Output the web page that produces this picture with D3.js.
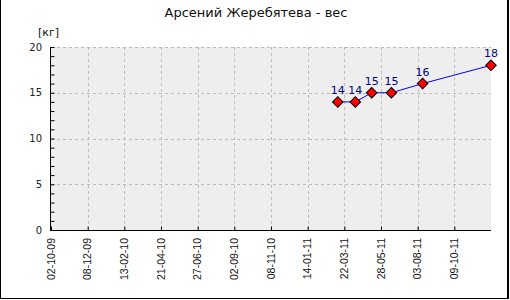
<!DOCTYPE html>
<html>
<head>
<meta charset="utf-8">
<script src="https://cdn.jsdelivr.net/npm/d3@7"></script>
<style>
body { margin: 0; background: #fff; }
svg { display: block; }
</style>
</head>
<body>
<script>
// chart data
var title = "Арсений Жеребятева - вес"
var unit = "[кг]"
var tickLabels = ["02-10-09", "08-12-09", "13-02-10", "21-04-10", "27-06-10", "02-09-10",
                  "08-11-10", "14-01-11", "22-03-11", "28-05-11", "03-08-11", "09-10-11"]
var measureDates = ["10-03-11", "11-04-11", "11-05-11", "16-06-11", "12-08-11", "15-12-11"]
var weights = [14, 14, 15, 15, 16, 18]
var yTicks = [0, 5, 10, 15, 20]

var parse = d3.timeParse("%d-%m-%y")
var fmt = d3.timeFormat("%d-%m-%y")
var data = measureDates.map((d, i) => ({date: parse(d), w: weights[i]}))
var tickDates = tickLabels.map(parse)

var W = 510, H = 300
var plotL = 51, plotR = 491, plotT = 47, plotB = 230

var svg = d3.select("body").append("svg")
    .attr("width", W)
    .attr("height", H)

// outer frame (left, right, bottom)
svg.append("line").attr("x1", 0.5).attr("x2", 0.5).attr("y1", 0).attr("y2", 299).attr("stroke", "#000")
svg.append("line").attr("x1", 508).attr("x2", 508).attr("y1", 0).attr("y2", 299).attr("stroke", "#000").attr("stroke-width", 2)
svg.append("line").attr("x1", 0).attr("x2", 509).attr("y1", 298.5).attr("y2", 298.5).attr("stroke", "#000")

var x = d3.scaleTime()
    .domain([tickDates[0], data[data.length - 1].date])
    .range([plotL, plotR])
var y = d3.scaleLinear().domain([0, 20]).range([plotB, plotT])

// plot background
svg.append("rect")
    .attr("x", plotL).attr("y", plotT)
    .attr("width", plotR - plotL).attr("height", plotB - plotT)
    .attr("fill", "#eeeeee")

// grid
svg.append("g").selectAll("line")
    .data(yTicks.filter(d => d > 0))
    .enter().append("line")
    .attr("x1", plotL).attr("x2", plotR)
    .attr("y1", d => Math.round(y(d)) + 0.5).attr("y2", d => Math.round(y(d)) + 0.5)
    .attr("stroke", "#bbbbbb").attr("stroke-dasharray", "3,3")
svg.append("g").selectAll("line")
    .data(tickDates.slice(1))
    .enter().append("line")
    .attr("x1", d => Math.round(x(d)) + 0.5).attr("x2", d => Math.round(x(d)) + 0.5)
    .attr("y1", plotT).attr("y2", plotB)
    .attr("stroke", "#bbbbbb").attr("stroke-dasharray", "3,3")

// y axis, ticks inside
var yAxis = d3.axisRight(y).ticks(20).tickSize(4).tickFormat("")
var gy = svg.append("g").attr("transform", "translate(" + (plotL - 0.5) + ",0)").call(yAxis)
gy.select(".domain").remove()
gy.append("line").attr("x1", 0).attr("x2", 0).attr("y1", plotT).attr("y2", plotB + 1).attr("stroke", "#000")

svg.append("g").selectAll("text")
    .data(yTicks)
    .enter().append("text")
    .attr("x", 42).attr("y", d => y(d))
    .attr("dy", "0.35em")
    .attr("text-anchor", "end")
    .style("font", "10px 'DejaVu Sans'")
    .attr("fill", "#222")
    .text(d => d)

// x axis, ticks inside
var xAxis = d3.axisTop(x).tickValues(tickDates).tickSize(4).tickFormat("")
var gx = svg.append("g").attr("transform", "translate(0," + (plotB + 0.5) + ")").call(xAxis)
gx.select(".domain").remove()
gx.append("line").attr("x1", plotL - 1).attr("x2", plotR).attr("y1", 0).attr("y2", 0).attr("stroke", "#000")

svg.append("g").selectAll("text")
    .data(tickDates)
    .enter().append("text")
    .attr("transform", d => "translate(" + x(d) + ",238) rotate(-90)")
    .attr("dy", "0.35em")
    .attr("text-anchor", "end")
    .style("font", "10.5px 'Liberation Sans'")
    .attr("fill", "#111")
    .text(d => fmt(d))

// title and unit
svg.append("text")
    .attr("x", 256).attr("y", 17)
    .attr("text-anchor", "middle")
    .style("font", "13px 'DejaVu Sans'")
    .attr("fill", "#111")
    .text(title)
svg.append("text")
    .attr("x", 38).attr("y", 36)
    .style("font", "11px 'DejaVu Sans'")
    .attr("fill", "#111")
    .text(unit)

// line
svg.append("path")
    .datum(data)
    .attr("fill", "none")
    .attr("stroke", "#0000ff")
    .attr("stroke-width", 1)
    .attr("d", d3.line().x(d => x(d.date)).y(d => y(d.w)))

// markers
svg.append("g").selectAll("path")
    .data(data)
    .enter().append("path")
    .attr("transform", d => "translate(" + x(d.date) + "," + y(d.w) + ") rotate(45)")
    .attr("d", d3.symbol().type(d3.symbolSquare).size(56))
    .attr("fill", "#ff0000")
    .attr("stroke", "#000")
    .attr("stroke-width", 1)

// value labels
svg.append("g").selectAll("text")
    .data(data)
    .enter().append("text")
    .attr("x", d => x(d.date)).attr("y", d => y(d.w) - 8)
    .attr("text-anchor", "middle")
    .style("font", "11px 'DejaVu Sans'")
    .attr("fill", "#000080")
    .text(d => d.w)
</script>
</body>
</html>
